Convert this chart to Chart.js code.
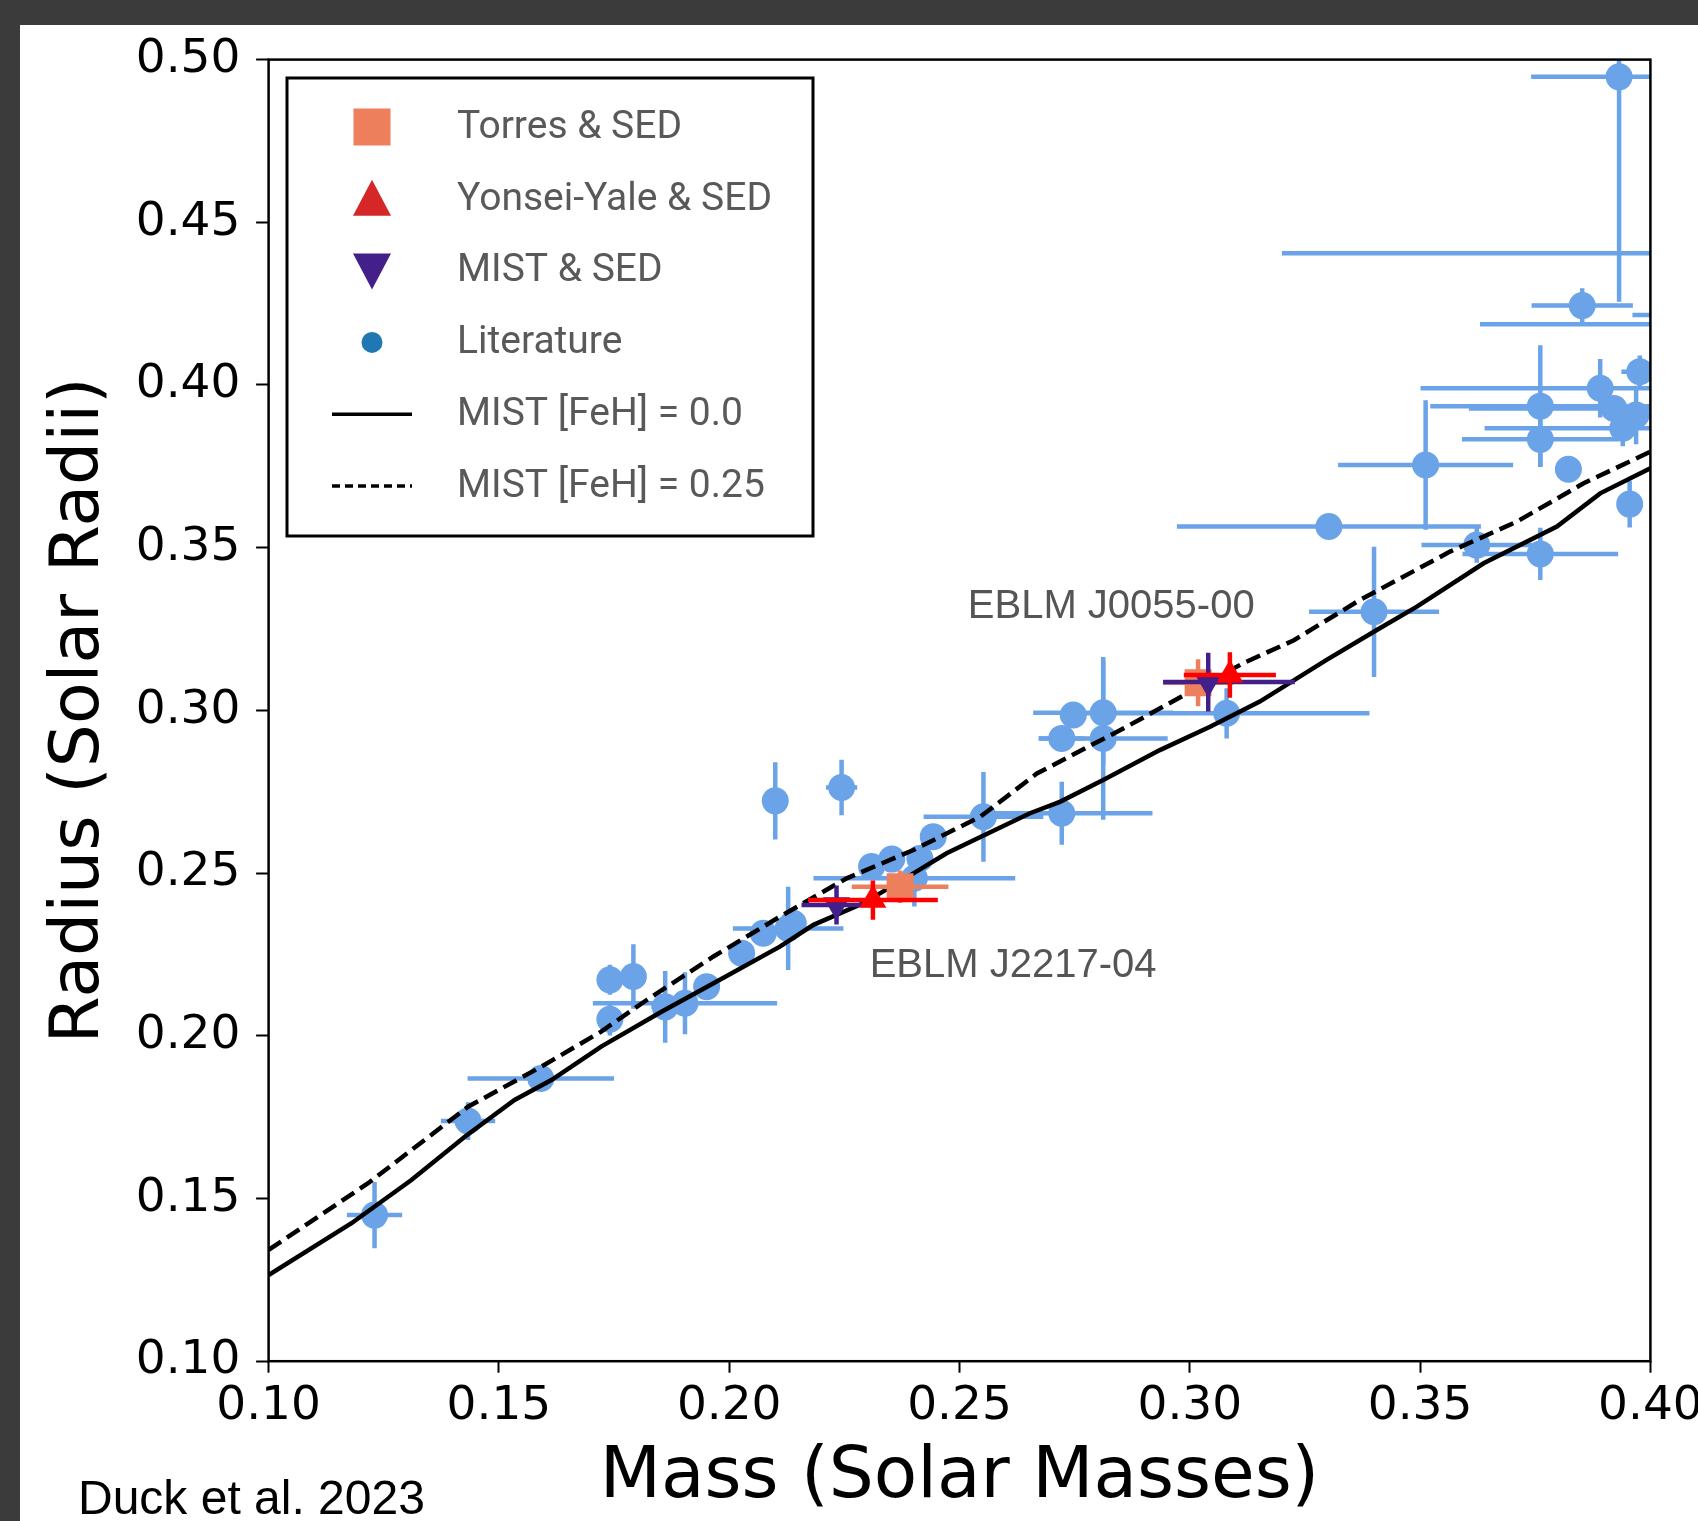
<!DOCTYPE html>
<html>
<head>
<meta charset="utf-8">
<script src="https://cdn.jsdelivr.net/npm/chart.js@4.4.0/dist/chart.umd.min.js"></script>
<style>
  html, body { margin: 0; padding: 0; background: #fff; overflow: hidden; }
  canvas { display: block; }
</style>
</head>
<body>
<canvas id="mrChart" width="1698" height="1521" style="width:1698px;height:1521px"></canvas>
<script>
// Mass-radius diagram, low mass stars (Duck et al. 2023)

// axes
const xTickValues = [0.10, 0.15, 0.20, 0.25, 0.30, 0.35, 0.40];
const yTickValues = [0.10, 0.15, 0.20, 0.25, 0.30, 0.35, 0.40, 0.45, 0.50];

// literature sample
const litMass      = [0.1230, 0.1433, 0.1591, 0.1741, 0.1792, 0.1741, 0.1861, 0.1904, 0.1951, 0.2027,
                      0.2074, 0.2128, 0.2139, 0.2100, 0.2244, 0.2309, 0.2353, 0.2443, 0.2414, 0.2402,
                      0.2552, 0.2722, 0.2747, 0.2812, 0.2812, 0.2722, 0.3080, 0.3302, 0.3400, 0.3512,
                      0.3623, 0.3761, 0.3761, 0.3761, 0.3822, 0.3852, 0.3932, 0.3891, 0.3921, 0.3940,
                      0.3969, 0.3977, 0.3955, 0.4300, 0.4060, 0.4200];
const litRadius    = [0.1449, 0.1738, 0.1869, 0.2172, 0.2182, 0.2051, 0.2089, 0.2100, 0.2151, 0.2254,
                      0.2315, 0.2330, 0.2346, 0.2722, 0.2763, 0.2520, 0.2543, 0.2612, 0.2545, 0.2484,
                      0.2673, 0.2684, 0.2986, 0.2993, 0.2914, 0.2914, 0.2991, 0.3565, 0.3303, 0.3754,
                      0.3508, 0.3481, 0.3833, 0.3935, 0.3741, 0.4244, 0.4947, 0.3990, 0.3928, 0.3867,
                      0.3908, 0.4041, 0.3634, 0.4405, 0.4215, 0.4187];
const litMassErr   = [0.0060, 0.0059, 0.0159, 0.0020, 0.0020, 0.0000, 0.0030, 0.0200, 0.0000, 0.0000,
                      0.0000, 0.0120, 0.0000, 0.0000, 0.0034, 0.0000, 0.0000, 0.0000, 0.0000, 0.0219,
                      0.0130, 0.0197, 0.0020, 0.0152, 0.0140, 0.0050, 0.0310, 0.0330, 0.0141, 0.0190,
                      0.0120, 0.0169, 0.0170, 0.0239, 0.0000, 0.0110, 0.0191, 0.0390, 0.0315, 0.0300,
                      0.0030, 0.0040, 0.0000, 0.1100, 0.0099, 0.0570];
const litRadiusErr = [0.0102, 0.0058, 0.0000, 0.0046, 0.0099, 0.0050, 0.0110, 0.0095, 0.0000, 0.0000,
                      0.0000, 0.0128, 0.0000, 0.0119, 0.0085, 0.0000, 0.0000, 0.0000, 0.0000, 0.0087,
                      0.0138, 0.0097, 0.0040, 0.0160, 0.0250, 0.0000, 0.0077, 0.0000, 0.0200, 0.0199,
                      0.0054, 0.0080, 0.0085, 0.0187, 0.0000, 0.0053, 0.0691, 0.0090, 0.0030, 0.0055,
                      0.0090, 0.0050, 0.0072, 0.0000, 0.0000, 0.0000];

// EBLM J2217-04 and EBLM J0055-00 solutions
const torresMass      = [0.2371, 0.3018];
const torresRadius    = [0.2458, 0.3085];
const torresMassErr   = [0.0105, 0.0076];
const torresRadiusErr = [0.0050, 0.0072];

const yyMass      = [0.2312, 0.3087];
const yyRadius    = [0.2417, 0.3109];
const yyMassErr   = [0.0141, 0.0100];
const yyRadiusErr = [0.0060, 0.0070];

const mistMass       = [0.2233, 0.3040];
const mistRadius     = [0.2402, 0.3087];
const mistMassErrLo  = [0.0076, 0.0098];
const mistMassErrHi  = [0.0076, 0.0188];
const mistRadiusErr  = [0.0060, 0.0090];

// MIST isochrones
const feh0Mass   = [0.100, 0.118, 0.131, 0.1426, 0.1534, 0.1614, 0.1722, 0.1853, 0.1965, 0.211, 0.2183,
                    0.2291, 0.240, 0.2472, 0.2653, 0.2718, 0.2812, 0.2935, 0.3044, 0.3152, 0.3297,
                    0.3406, 0.3493, 0.3638, 0.3797, 0.3891, 0.400];
const feh0Radius = [0.1265, 0.1424, 0.1557, 0.1690, 0.1803, 0.1864, 0.1967, 0.2074, 0.2161, 0.2274, 0.2341,
                    0.2407, 0.2499, 0.2561, 0.2684, 0.2719, 0.2786, 0.2878, 0.2950, 0.3027, 0.3155,
                    0.3247, 0.3319, 0.3452, 0.3565, 0.3667, 0.3744];
const feh25Mass   = [0.100, 0.1216, 0.1433, 0.1592, 0.1722, 0.1821, 0.1965, 0.211, 0.2255, 0.240,
                     0.2545, 0.2668, 0.2863, 0.3008, 0.3116, 0.3225, 0.3369, 0.3565, 0.371, 0.3855, 0.400];
const feh25Radius = [0.1342, 0.1547, 0.1782, 0.1905, 0.2013, 0.2110, 0.2243, 0.2366, 0.2484, 0.2571,
                     0.2673, 0.2806, 0.2950, 0.3063, 0.3145, 0.3215, 0.3339, 0.3488, 0.3580, 0.3698, 0.3795];

const legendLabels = ['Torres & SED', 'Yonsei-Yale & SED', 'MIST & SED', 'Literature',
                      'MIST [FeH] = 0.0', 'MIST [FeH] = 0.25'];

const BLUE = '#6ba3e8';
const SALMON = '#ee7f5d';
const RED = '#ff0000';
const INDIGO = '#431f8a';

const pts = (xs, ys) => xs.map((x, i) => ({x: x, y: ys[i]}));
const symErr = (mx, my) => mx.map((m, i) => ({xlo: m, xhi: m, y: my[i]}));

// error bars, drawn just before the markers of their own dataset
const errorBars = {
    id: 'errorBars',
    beforeDatasetDraw(chart, args) {
        const ds = chart.data.datasets[args.index];
        if (!ds.errors) return;
        const {ctx, chartArea: a, scales: {x, y}} = chart;
        ctx.save();
        ctx.beginPath();
        ctx.rect(a.left, a.top, a.right - a.left, a.bottom - a.top);
        ctx.clip();
        ctx.strokeStyle = ds.errorColor;
        ctx.lineWidth = 4.5;
        ds.data.forEach((p, i) => {
            const e = ds.errors[i];
            const px = x.getPixelForValue(p.x), py = y.getPixelForValue(p.y);
            ctx.beginPath();
            if (e.xlo || e.xhi) {
                ctx.moveTo(x.getPixelForValue(p.x - e.xlo), py);
                ctx.lineTo(x.getPixelForValue(p.x + e.xhi), py);
            }
            if (e.y) {
                ctx.moveTo(px, y.getPixelForValue(p.y - e.y));
                ctx.lineTo(px, y.getPixelForValue(p.y + e.y));
            }
            ctx.stroke();
        });
        ctx.restore();
    }
};

// background, frame, legend, labels
const decor = {
    id: 'decor',
    beforeDraw(chart) {
        const ctx = chart.ctx;
        ctx.save();
        ctx.fillStyle = '#fff';
        ctx.fillRect(0, 0, chart.width, chart.height);
        ctx.fillStyle = '#3b3b3b';
        ctx.fillRect(0, 0, chart.width, 25);
        ctx.fillRect(0, 0, 20, chart.height);
        ctx.restore();
    },
    afterDraw(chart) {
        const {ctx, chartArea: a, scales: {x, y}} = chart;
        ctx.save();
        // axes box
        ctx.strokeStyle = '#000';
        ctx.lineWidth = 2.5;
        ctx.strokeRect(a.left, a.top, a.right - a.left, a.bottom - a.top);

        // axis titles
        ctx.fillStyle = '#000';
        ctx.font = '71px "DejaVu Sans"';
        ctx.textAlign = 'center';
        ctx.textBaseline = 'middle';
        ctx.fillText('Mass (Solar Masses)', (a.left + a.right) / 2, 1479);
        ctx.font = '68px "DejaVu Sans"';
        ctx.save();
        ctx.translate(80, (a.top + a.bottom) / 2);
        ctx.rotate(-Math.PI / 2);
        ctx.fillText('Radius (Solar Radii)', 0, 0);
        ctx.restore();

        ctx.font = '48px "Liberation Sans", Arial, sans-serif';
        ctx.textAlign = 'left';
        ctx.textBaseline = 'alphabetic';
        ctx.fillText('Duck et al. 2023', 78, 1514);

        // system labels
        ctx.fillStyle = '#555';
        ctx.font = '40px "Liberation Sans", Arial, sans-serif';
        ctx.fillText('EBLM J0055-00', x.getPixelForValue(0.2518), y.getPixelForValue(0.3284));
        ctx.fillText('EBLM J2217-04', x.getPixelForValue(0.2305), y.getPixelForValue(0.2181));

        // legend
        const lx = 287, ly = 78, lw = 526, lh = 458;
        ctx.fillStyle = '#fff';
        ctx.fillRect(lx, ly, lw, lh);
        ctx.strokeStyle = '#000';
        ctx.lineWidth = 3;
        ctx.strokeRect(lx, ly, lw, lh);
        const mx = 372, tx = 457, row0 = 127, step = 71.8;
        legendLabels.forEach((label, i) => {
            const cy = row0 + i * step;
            ctx.beginPath();
            if (i === 0) {
                ctx.fillStyle = SALMON;
                ctx.fillRect(mx - 18.5, cy - 18.5, 37, 37);
            } else if (i === 1) {
                ctx.fillStyle = '#d62728';
                ctx.moveTo(mx, cy - 19); ctx.lineTo(mx + 19, cy + 17); ctx.lineTo(mx - 19, cy + 17);
                ctx.closePath(); ctx.fill();
            } else if (i === 2) {
                ctx.fillStyle = INDIGO;
                ctx.moveTo(mx, cy + 19); ctx.lineTo(mx + 19, cy - 17); ctx.lineTo(mx - 19, cy - 17);
                ctx.closePath(); ctx.fill();
            } else if (i === 3) {
                ctx.fillStyle = '#1f77b4';
                ctx.arc(mx, cy, 10.5, 0, Math.PI * 2);
                ctx.fill();
            } else {
                ctx.strokeStyle = '#000';
                ctx.lineWidth = 3.5;
                ctx.setLineDash(i === 5 ? [8, 5] : []);
                ctx.moveTo(332, cy); ctx.lineTo(412, cy);
                ctx.stroke();
                ctx.setLineDash([]);
            }
            ctx.fillStyle = '#595959';
            ctx.font = '39px Roboto, "Liberation Sans", sans-serif';
            ctx.textBaseline = 'middle';
            ctx.fillText(label, tx, cy + 1);
        });
        ctx.restore();
    }
};

const tickFont = {family: 'DejaVu Sans', size: 47};

new Chart(document.getElementById('mrChart'), {
    type: 'scatter',
    data: {
        datasets: [
            {
                label: 'Literature',
                data: pts(litMass, litRadius),
                errors: symErr(litMassErr, litRadiusErr),
                errorColor: BLUE,
                pointStyle: 'circle',
                pointRadius: 13.5,
                backgroundColor: BLUE,
                borderWidth: 0,
                order: 5
            },
            {
                label: 'MIST [FeH] = 0.0',
                data: pts(feh0Mass, feh0Radius),
                showLine: true,
                borderColor: '#000',
                borderWidth: 4.5,
                pointRadius: 0,
                tension: 0,
                order: 4
            },
            {
                label: 'MIST [FeH] = 0.25',
                data: pts(feh25Mass, feh25Radius),
                showLine: true,
                borderColor: '#000',
                borderWidth: 4.5,
                borderDash: [15, 7],
                pointRadius: 0,
                tension: 0,
                order: 4
            },
            {
                label: 'Torres & SED',
                data: pts(torresMass, torresRadius),
                errors: symErr(torresMassErr, torresRadiusErr),
                errorColor: SALMON,
                pointStyle: 'rect',
                pointRadius: 19,
                backgroundColor: SALMON,
                borderWidth: 0,
                order: 3
            },
            {
                label: 'MIST & SED',
                data: pts(mistMass, mistRadius),
                errors: mistMass.map((m, i) => ({xlo: mistMassErrLo[i], xhi: mistMassErrHi[i], y: mistRadiusErr[i]})),
                errorColor: INDIGO,
                pointStyle: 'triangle',
                rotation: 180,
                pointRadius: 15.5,
                backgroundColor: INDIGO,
                borderWidth: 0,
                order: 2
            },
            {
                label: 'Yonsei-Yale & SED',
                data: pts(yyMass, yyRadius),
                errors: symErr(yyMassErr, yyRadiusErr),
                errorColor: RED,
                pointStyle: 'triangle',
                pointRadius: 15.5,
                backgroundColor: RED,
                borderWidth: 0,
                order: 1
            }
        ]
    },
    options: {
        responsive: false,
        animation: false,
        events: [],
        layout: {
            autoPadding: false,
            padding: {left: 0, top: 59.6, right: 47.6, bottom: 0}
        },
        plugins: {
            legend: {display: false},
            tooltip: {enabled: false}
        },
        scales: {
            x: {
                type: 'linear',
                min: 0.10,
                max: 0.40,
                afterBuildTicks: s => { s.ticks = xTickValues.map(v => ({value: v})); },
                afterFit: s => { s.height = 159.8; s.paddingLeft = 0; s.paddingRight = 0; },
                border: {display: false},
                grid: {drawOnChartArea: false, drawTicks: true, tickLength: 11.5, tickWidth: 2, tickColor: '#000'},
                ticks: {
                    color: '#000',
                    font: tickFont,
                    padding: 6,
                    maxRotation: 0,
                    autoSkip: false,
                    callback: v => v.toFixed(2)
                }
            },
            y: {
                type: 'linear',
                min: 0.10,
                max: 0.50,
                afterBuildTicks: s => { s.ticks = yTickValues.map(v => ({value: v})); },
                afterFit: s => { s.width = 268.6; s.paddingTop = 0; s.paddingBottom = 0; },
                border: {display: false},
                grid: {drawOnChartArea: false, drawTicks: true, tickLength: 12.5, tickWidth: 2, tickColor: '#000'},
                ticks: {
                    color: '#000',
                    font: tickFont,
                    padding: 15.7,
                    autoSkip: false,
                    callback: v => v.toFixed(2)
                }
            }
        }
    },
    plugins: [errorBars, decor]
});
</script>
</body>
</html>
